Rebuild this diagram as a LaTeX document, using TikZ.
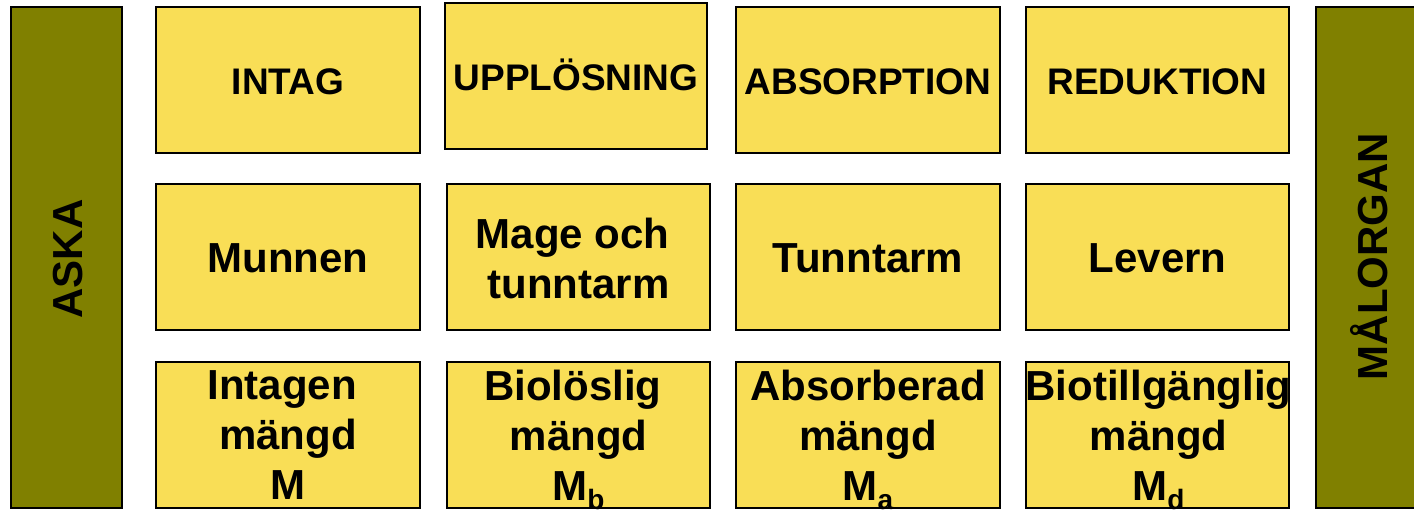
\documentclass[tikz,border=0pt]{standalone}
\usepackage{fontspec}
\setmainfont{Liberation Sans}
\definecolor{boxyellow}{RGB}{249,222,86}
\definecolor{barolive}{RGB}{128,128,0}
\tikzset{
  stagebox/.style={draw=black, line width=1.6pt, fill=boxyellow, inner sep=0pt,
                   minimum width=264pt, minimum height=146pt},
  sidebar/.style={draw=black, line width=1.6pt, fill=barolive, inner sep=0pt,
                  minimum width=111pt, minimum height=501pt},
  headlbl/.style={font=\fontsize{37}{44}\selectfont\bfseries, inner sep=0pt, anchor=base},
  celllbl/.style={font=\fontsize{42}{50}\selectfont\bfseries, inner sep=0pt, align=center},
  barlbl/.style={font=\fontsize{42}{50}\selectfont\bfseries, inner sep=0pt, rotate=90,
                 text height=30pt, text depth=0pt}
}
% subscripted amount symbol
\newcommand{\msub}[1]{M\raisebox{-9pt}{\fontsize{28}{28}\selectfont #1}}
% word space kept at the end of a line
\newcommand{\tsp}{\kern0.278em}
\begin{document}
\begin{tikzpicture}[x=1pt, y=-1pt]
  \useasboundingbox (0,0) rectangle (1414,511);
  \clip (0,0) rectangle (1414,511);

  % side bars
  \node[sidebar] (aska) at (66.5,257.5) {};
  \node[sidebar] (malorgan) at (1371.5,257.5) {};
  \node[barlbl] (askat) at (67.5,259) {ASKA};
  \node[barlbl] (malorgant) at (1372.5,256.5) {MÅLORGAN};

  % process row
  \node[stagebox] (intag) at (288,80) {};
  \node[stagebox, minimum width=262pt] (upplos) at (576,76) {};
  \node[stagebox] (absorp) at (868,80) {};
  \node[stagebox, minimum width=263pt] (reduk) at (1157.5,80) {};
  \node[headlbl] (intagt) at (288,94.5) {INTAG};
  \node[headlbl] (upplost) at (576,90) {UPPLÖSNING};
  \node[headlbl] (absorpt) at (868,94.5) {ABSORPTION};
  \node[headlbl] (redukt) at (1157.5,94.5) {REDUKTION};

  % organ row
  \node[stagebox] (munnen) at (288,257) {};
  \node[stagebox, minimum width=263pt] (mage) at (578.5,257) {};
  \node[stagebox] (tunntarm) at (868,257) {};
  \node[stagebox, minimum width=263pt] (levern) at (1157.5,257) {};
  \node[celllbl, anchor=base] (munnent) at (288,272) {Munnen};
  \node[celllbl, anchor=north] (maget) at (578.5,218) {Mage och\tsp\\tunntarm};
  \node[celllbl, anchor=base] (tunntarmt) at (868,272) {Tunntarm};
  \node[celllbl, anchor=base] (levernt) at (1157.5,272) {Levern};

  % amount row
  \node[stagebox] (intagen) at (288,435) {};
  \node[stagebox, minimum width=263pt] (biolos) at (578.5,435) {};
  \node[stagebox] (absorb) at (868,435) {};
  \node[stagebox, minimum width=263pt] (biotill) at (1157.5,435) {};
  \node[celllbl, anchor=north] (intagent) at (288,370) {Intagen\tsp\\mängd\\M};
  \node[celllbl, anchor=north] (biolost) at (578.5,370) {Biolöslig\tsp\\mängd\\\msub{b}};
  \node[celllbl, anchor=north] (absorbt) at (868,370) {Absorberad\\mängd\\\msub{a}};
  \node[celllbl, anchor=north] (biotillt) at (1158.5,370) {Biotillgänglig\\mängd\\\msub{d}};
\end{tikzpicture}
\end{document}
